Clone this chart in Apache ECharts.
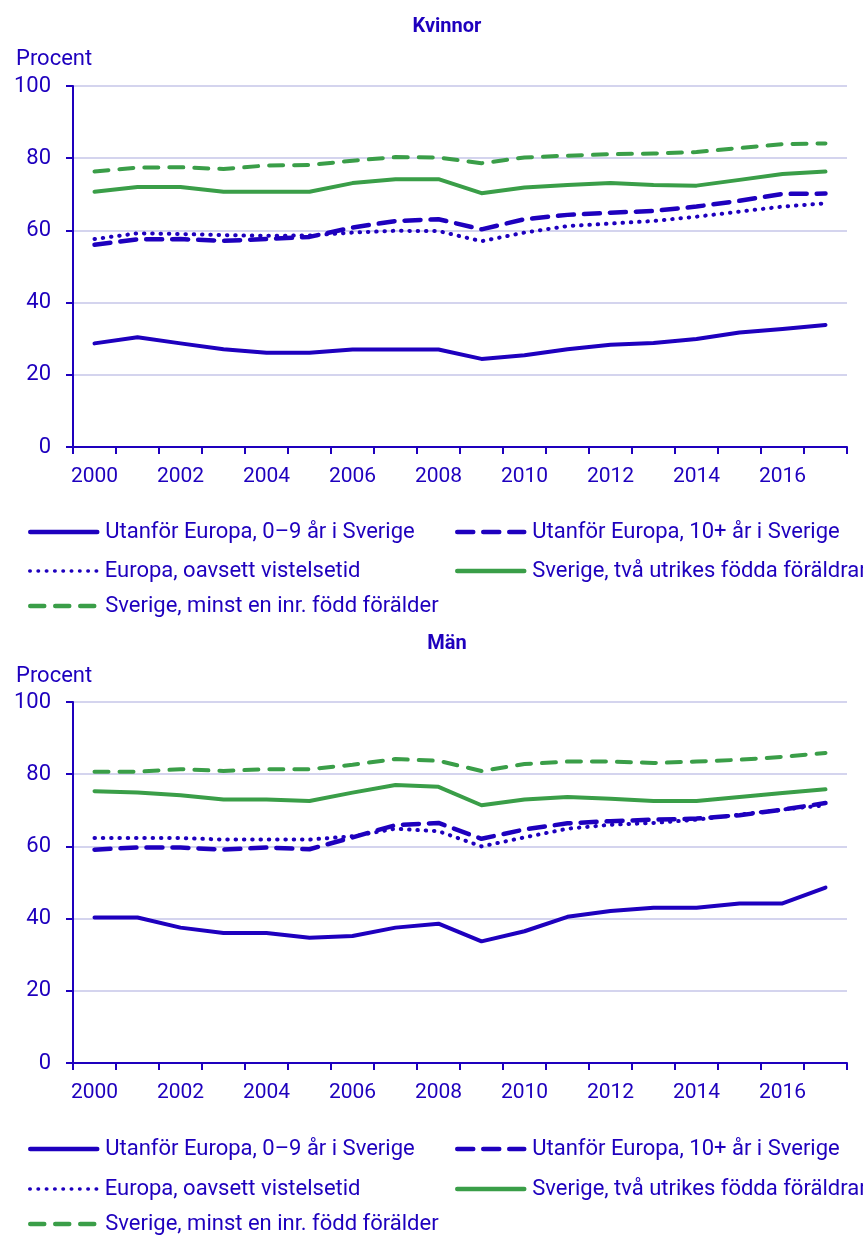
<!DOCTYPE html>
<html><head><meta charset="utf-8">
<script src="https://cdn.jsdelivr.net/npm/echarts@6/dist/echarts.min.js"></script>
<style>html,body{margin:0;padding:0;background:#fff}#c{width:863px;height:1236px}</style>
</head><body><div id="c"></div>
<script>
const years = ['2000','2001','2002','2003','2004','2005','2006','2007','2008','2009','2010','2011','2012','2013','2014','2015','2016','2017'];
const seriesNames = ['Utanför Europa, 0–9 år i Sverige','Utanför Europa, 10+ år i Sverige','Europa, oavsett vistelsetid','Sverige, två utrikes födda föräldrar','Sverige, minst en inr. född förälder'];
const panelTitles = ['Kvinnor','Män'];
const yUnit = 'Procent';
// Kvinnor
const k_ue09 = [28.7,30.4,28.7,27.1,26.1,26.1,27.0,27.0,27.0,24.4,25.4,27.1,28.3,28.8,29.9,31.7,32.7,33.8];
const k_ue10 = [56.0,57.5,57.6,57.1,57.6,58.2,60.8,62.6,63.1,60.3,63.1,64.3,64.9,65.4,66.6,68.2,70.1,70.2];
const k_eu   = [57.6,59.2,59.0,58.7,58.5,58.6,59.4,59.9,59.8,57.0,59.4,61.2,61.9,62.6,63.8,65.2,66.6,67.5];
const k_sv2  = [70.7,72.0,72.0,70.7,70.7,70.7,73.1,74.2,74.2,70.3,71.9,72.6,73.1,72.6,72.4,74.0,75.6,76.3];
const k_sv1  = [76.3,77.4,77.5,77.0,78.0,78.1,79.3,80.3,80.2,78.6,80.2,80.7,81.1,81.3,81.7,82.8,83.9,84.1];
// Män
const m_ue09 = [40.3,40.3,37.5,36.0,36.0,34.7,35.2,37.5,38.6,33.7,36.5,40.5,42.1,43.0,43.0,44.2,44.2,48.6];
const m_ue10 = [59.1,59.7,59.7,59.1,59.7,59.2,62.5,65.9,66.5,62.1,64.7,66.4,67.0,67.4,67.7,68.6,70.2,72.0];
const m_eu   = [62.3,62.3,62.3,61.9,61.9,61.9,62.8,64.9,64.2,60.0,62.5,64.9,66.0,66.5,67.4,68.8,70.2,71.4];
const m_sv2  = [75.3,74.9,74.2,73.0,73.0,72.6,74.9,77.0,76.5,71.4,73.0,73.7,73.2,72.6,72.6,73.7,74.8,75.8];
const m_sv1  = [80.7,80.7,81.4,80.9,81.4,81.4,82.6,84.2,83.7,80.9,82.8,83.5,83.5,83.1,83.5,84.0,84.8,85.9];
const yTicks = [0,20,40,60,80,100];

const BLUE = '#1E00BE', GREEN = '#3A9E48', GRID = '#D4D4EE';
const FONT = 'Roboto';
const FS = 22;
const styles = [
  {color: BLUE, type: 'solid', width: 4},
  {color: BLUE, type: [16,10], width: 4.5},
  {color: BLUE, type: [0.5,7.8], width: 4},
  {color: GREEN, type: 'solid', width: 4},
  {color: GREEN, type: [14,11], width: 4}
];
const panels = [
  {data:[k_ue09,k_ue10,k_eu,k_sv2,k_sv1], top:86, titleY:17, unitY:48, legendRows:[533,572,607]},
  {data:[m_ue09,m_ue10,m_eu,m_sv2,m_sv1], top:702, titleY:634, unitY:665, legendRows:[1150,1190,1225]}
];
const H = 361;
const option = {animation:false, title:[], grid:[], xAxis:[], yAxis:[], series:[], legend:[]};
panels.forEach((p,pi)=>{
  option.title.push({text:panelTitles[pi], left:447, top:p.titleY, textAlign:'center', padding:0,
    textStyle:{fontFamily:FONT, fontSize:20, fontWeight:'bold', color:BLUE}});
  option.title.push({text:yUnit, left:16, top:p.unitY, padding:0,
    textStyle:{fontFamily:FONT, fontSize:FS, fontWeight:'normal', color:BLUE}});
  option.grid.push({left:73, top:p.top, width:774, height:H, containLabel:false});
  option.xAxis.push({type:'category', gridIndex:pi, data:years, boundaryGap:true,
    axisLine:{lineStyle:{color:BLUE, width:2}},
    axisTick:{show:true, interval:0, length:7, lineStyle:{color:BLUE, width:2}},
    axisLabel:{interval:1, margin:19, color:BLUE, fontFamily:FONT, fontSize:21},
    splitLine:{show:false}});
  option.yAxis.push({type:'value', gridIndex:pi, min:0, max:100, interval:20,
    axisLine:{show:true, lineStyle:{color:BLUE, width:2}},
    axisTick:{show:true, length:7, lineStyle:{color:BLUE, width:2}},
    axisLabel:{margin:22, color:BLUE, fontFamily:FONT, fontSize:FS,
      formatter:v=>yTicks.includes(v)?String(v):''},
    splitLine:{show:true, lineStyle:{color:GRID, width:2}}});
  p.data.forEach((d,si)=>{
    option.series.push({name:seriesNames[si], type:'line', xAxisIndex:pi, yAxisIndex:pi,
      data:d, symbol:'none', showSymbol:false, smooth:false, z:2+si,
      lineStyle:{color:styles[si].color, type:styles[si].type, width:styles[si].width, cap:'round', join:'round'},
      itemStyle:{color:styles[si].color}});
  });
  const pos = [[28,0],[455,0],[28,1],[455,1],[28,2]];
  seriesNames.forEach((nm,si)=>{
    option.legend.push({data:[nm], left:pos[si][0], top:p.legendRows[pos[si][1]]-12, padding:0,
      itemWidth:67, itemHeight:24, itemGap:0, selectedMode:false,
      itemStyle:{opacity:0},
      lineStyle:{width: si===2 ? 3.5 : 4.5},
      textStyle:{fontFamily:FONT, fontSize:FS, color:BLUE, padding:[0,0,0,3]}});
  });
});
const chart = echarts.init(document.getElementById('c'), null, {renderer:'canvas'});
chart.setOption(option);
</script></body></html>
